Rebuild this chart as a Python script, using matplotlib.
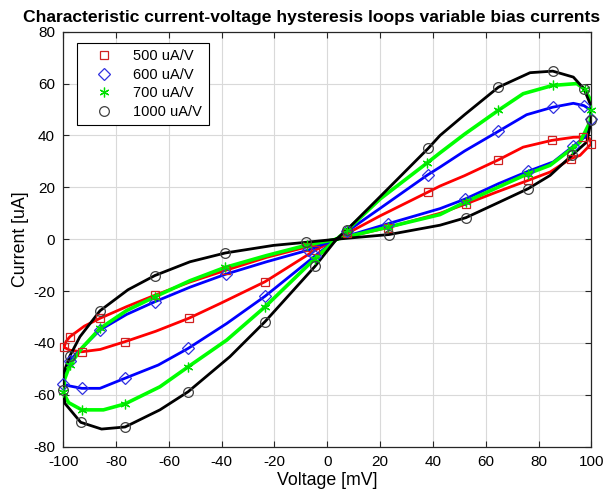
import numpy as np
import matplotlib
matplotlib.use("Agg")
import matplotlib.pyplot as plt

plt.rcParams['font.family'] = ['Liberation Sans', 'DejaVu Sans']
plt.rcParams['axes.unicode_minus'] = False

# --- loop paths (voltage mV, current uA) ---
v_500 = [3.5, 23, 42.7, 52.5, 64.2, 76.1, 84.4, 92.3, 95.7, 100, 99.3, 97, 93.2, 85, 74.2,
         64.8, 52, 42.7, 38, 20, 7.5, 3.5, -4.7, -23.6, -40.6, -52.5, -65, -76.6, -86,
         -93, -97.5, -99.7, -99, -97.5, -92, -86.1, -76, -65.3, -52, -38.5, -23, -7.8, 3.5]
i_500 = [0, 4.5, 10, 13.6, 18.2, 22.7, 25.9, 31.1, 32.3, 36.8, 38.8, 39.4, 39.3, 38.1, 35.5,
         30.6, 24.5, 20.5, 18.1, 9, 2.2, 0, -4.3, -16.4, -24.8, -30.5, -35.5, -39.5, -42.5,
         -43.4, -42.8, -41.7, -39.5, -37.6, -33.5, -30.5, -26, -21.6, -16.5, -12, -7, -3, 0]

v_600 = [3.5, 23.1, 42.7, 52, 64.8, 76.1, 85.6, 93.2, 98.3, 100, 99.5, 97.2, 93.2, 85.4, 75.5,
         64.8, 52, 42.7, 38, 20, 7.5, 3.5, -4.7, -23.6, -38.1, -52.7, -64, -76.6, -86.1,
         -93, -98, -100, -100, -97.5, -96.2, -86.1, -76, -65.3, -52, -38.5, -23, -7.2, 3.5]
i_600 = [0, 6, 11.8, 15.4, 21.4, 26.2, 29.8, 35.9, 40, 46.5, 50, 51.5, 52.4, 50.9, 48,
         41.6, 34, 27.8, 24.8, 11.9, 3, 0, -6.5, -22, -32.5, -42.1, -48.5, -53.6, -57.5,
         -57.5, -56.5, -55.8, -51.7, -47, -45.3, -35, -29, -24.1, -18.5, -13.5, -8.7, -4.2, 0]

v_700 = [3.5, 23.1, 42.7, 52.4, 64.8, 76.1, 84.4, 92.6, 95.7, 99.5, 100, 99.8, 97.5, 94.5, 85.4,
         74.2, 64.8, 52, 42.7, 37.8, 20, 7.5, 3.5, -4.7, -23.6, -38.1, -52.7, -63.4, -76.6,
         -84.8, -93, -98, -100, -99.5, -97.5, -93, -86.1, -76, -65.3, -52, -38.8, -23, -7.8, 3.5]
i_700 = [0, 4.7, 9.5, 14.4, 20.1, 25.3, 28.5, 34.9, 37.4, 45.2, 50, 53.5, 57.8, 60, 59.3,
         56.1, 49.7, 40.5, 33.3, 29.4, 15.5, 3.5, 0, -7.5, -26.1, -38.9, -49.2, -56.9, -63.5,
         -65.8, -65.8, -63, -59, -54, -48.5, -42, -34.4, -27.5, -22.2, -16, -10.9, -6.3, -2.3, 0]

v_1000 = [3.5, 23.4, 42.7, 52.5, 65.4, 76.1, 84.4, 92.6, 98.3, 100, 99.8, 97.2, 93.2, 85.4, 76.8,
          64.8, 52, 42.7, 38.2, 20, 7.4, 3.5, -4.7, -23.6, -36.9, -52.7, -63.4, -76.6, -85.5,
          -93.4, -99.4, -100, -100, -98.1, -97.5, -93.7, -86.1, -75.5, -65.3, -52, -38.6, -20.5,
          -8.1, 3.5]
i_1000 = [0, 1.8, 5.4, 8.3, 14.4, 19.5, 24.6, 32.3, 37.5, 46, 51.6, 58, 62.5, 64.8, 64.2,
          58.6, 48, 40, 35, 16.4, 3.6, 0, -10.5, -31.8, -45.3, -58.8, -65.8, -72.4, -73.2,
          -70.6, -63.3, -58, -52, -46.6, -45, -37.6, -27.6, -19.5, -14, -8.7, -5.3, -2.4,
          -1.2, 0]

# --- marker samples on each loop ---
mv_500 = [23, 52.5, 76.1, 92.3, 100, 97, 85, 64.8, 38, 7.5, -4.7, -23.6, -52.5, -76.6, -93,
          -99.7, -97.5, -86.1, -65.3, -38.5, -7.8]
mi_500 = [4.5, 13.6, 22.7, 31.1, 36.8, 39.4, 38.1, 30.6, 18.1, 2.2, -4.3, -16.4, -30.5, -39.5,
          -43.4, -41.7, -37.6, -30.5, -21.6, -12, -3]
mv_600 = [23.1, 52, 76.1, 93.2, 100, 97.2, 85.4, 64.8, 38, 7.5, -4.7, -23.6, -52.7, -76.6, -93,
          -100, -97.5, -86.1, -65.3, -38.5, -7.2]
mi_600 = [6, 15.4, 26.2, 35.9, 46.5, 51.5, 50.9, 41.6, 24.8, 3, -6.5, -22, -42.1, -53.6, -57.5,
          -55.8, -47, -35, -24.1, -13.5, -4.2]
mv_700 = [23.1, 52.4, 76.1, 92.6, 100, 97.5, 85.4, 64.8, 37.8, 7.5, -4.7, -23.6, -52.7, -76.6,
          -93, -100, -97.5, -86.1, -65.3, -38.8, -7.8]
mi_700 = [4.7, 14.4, 25.3, 34.9, 50, 57.8, 59.3, 49.7, 29.4, 3.5, -7.5, -26.1, -49.2, -63.5,
          -65.8, -59, -48.5, -34.4, -22.2, -10.9, -2.3]
mv_1000 = [23.4, 52.5, 76.1, 92.6, 100, 97.2, 85.4, 64.8, 38.2, 7.4, -4.7, -23.6, -52.7, -76.6,
           -93.4, -100, -97.5, -86.1, -65.3, -38.6, -8.1]
mi_1000 = [1.8, 8.3, 19.5, 32.3, 46, 58, 64.8, 58.6, 35, 3.6, -10.5, -31.8, -58.8, -72.4,
           -70.6, -58, -45, -27.6, -14, -5.3, -1.2]

labels = ["500 uA/V", "600 uA/V", "700 uA/V", "1000 uA/V"]

fig = plt.figure(figsize=(6.12, 5.01), dpi=100)
ax = fig.add_axes([0.1034, 0.1084, 0.8628, 0.8283])

asterisk = (6, 2, 0)
series = [
    (v_500, i_500, mv_500, mi_500, "#ff0000", "s", "#d02020", 2.0, 6),
    (v_600, i_600, mv_600, mi_600, "#0000ff", "D", "#3030e0", 2.0, 6.5),
    (v_700, i_700, mv_700, mi_700, "#00ff00", asterisk, "#00e000", 2.6, 7),
    (v_1000, i_1000, mv_1000, mi_1000, "#000000", "o", "#404040", 2.0, 7),
]

for (v, i, mv, mi, col, mk, mcol, lw, ms), lab in zip(series, labels):
    ax.plot(v, i, color=col, lw=lw, solid_joinstyle="round", zorder=3)
    ax.plot(mv, mi, ls="none", marker=mk, ms=ms, mfc="none", mec=mcol, mew=0.9,
            label=lab, zorder=4, clip_on=False)

ax.set_xlim(-100, 100)
ax.set_ylim(-80, 80)
ax.set_xticks(np.arange(-100, 101, 20))
ax.set_yticks(np.arange(-80, 81, 20))
ax.grid(True, color="#d9d9d9", lw=0.8)
ax.set_axisbelow(True)
ax.tick_params(direction="in", top=True, right=True, length=4, width=0.8,
               labelsize=11, pad=6, colors="#262626", labelcolor="black")
for s in ax.spines.values():
    s.set_color("#262626")
    s.set_linewidth(0.9)

ax.set_xlabel("Voltage [mV]", fontsize=12.8, labelpad=2)
ax.set_ylabel("Current [uA]", fontsize=12.8, labelpad=3)
# title is centred on the figure, not on the axes
ax.set_title("Characteristic current-voltage hysteresis loops variable bias currents",
             fontsize=12.6, fontweight="bold", pad=7, x=0.47)

leg = ax.legend(loc="upper left", bbox_to_anchor=(0.026, 0.973), fontsize=10.5,
                frameon=True, fancybox=False, edgecolor="black", framealpha=1,
                handlelength=2.8, handletextpad=0.6, borderpad=0.45, labelspacing=0.3,
                borderaxespad=0)
leg.get_frame().set_linewidth(0.8)

fig.savefig("out.png", dpi=100)
